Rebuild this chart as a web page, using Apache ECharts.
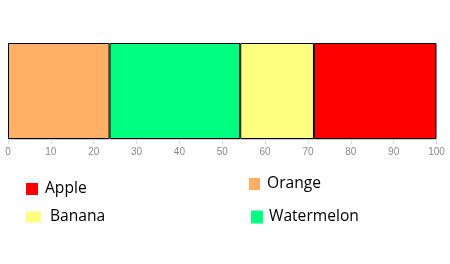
<!DOCTYPE html>
<html><head><meta charset="utf-8">
<script src="https://cdn.jsdelivr.net/npm/echarts@6/dist/echarts.min.js"></script>
<style>html,body{margin:0;padding:0;background:#fff}#c{width:450px;height:264px}</style>
</head><body><div id="c"></div>
<script>
const seriesNames = ['Orange', 'Watermelon', 'Banana', 'Apple'];
const seriesValues = [23.7, 30.5, 17.2, 28.6];
const seriesColors = ['#FFB066', '#00FF80', '#FFFF80', '#FF0000'];
const tickLabels = [0, 10, 20, 30, 40, 50, 60, 70, 80, 90, 100];

const chart = echarts.init(document.getElementById('c'), null, {renderer: 'canvas'});
const legendPos = {
  Apple: {left: 26, top: 181, w: 12, h: 12, gap: 7},
  Orange: {left: 249, top: 176, w: 11, h: 12, gap: 7},
  Banana: {left: 26, top: 209, w: 15, h: 11, gap: 9},
  Watermelon: {left: 251, top: 209, w: 12, h: 13, gap: 6}
};
const legends = Object.keys(legendPos).map(n => {
  const p = legendPos[n];
  return {
    data: [n], left: p.left, top: p.top, itemWidth: p.w, itemHeight: p.h,
    icon: 'rect', padding: 0, itemGap: 0,
    itemStyle: {borderWidth: 0},
    textStyle: {fontFamily: 'Open Sans', fontSize: 15.6, color: '#000', padding: [0, 0, 0, p.gap - 5]}
  };
});
chart.setOption({
  animation: false,
  grid: {left: 8, right: 13.5, top: 43, bottom: 125},
  legend: legends,
  xAxis: {
    type: 'value', min: 0, max: 100, interval: 10,
    splitLine: {show: false},
    axisLine: {show: true, lineStyle: {color: '#ccc'}},
    axisTick: {show: true, length: 5, lineStyle: {color: '#ddd'}},
    axisLabel: {color: '#8a8a8a', fontSize: 10, fontFamily: 'Liberation Sans', margin: 8,
      formatter: v => tickLabels.includes(v) ? String(v) : ''}
  },
  yAxis: {type: 'category', data: [''], show: false},
  series: seriesNames.map((n, i) => ({
    name: n, type: 'bar', stack: 'total', data: [seriesValues[i]],
    barWidth: '100%', barCategoryGap: 0,
    itemStyle: {color: seriesColors[i], borderColor: '#000', borderWidth: 1}
  }))
});
</script></body></html>
